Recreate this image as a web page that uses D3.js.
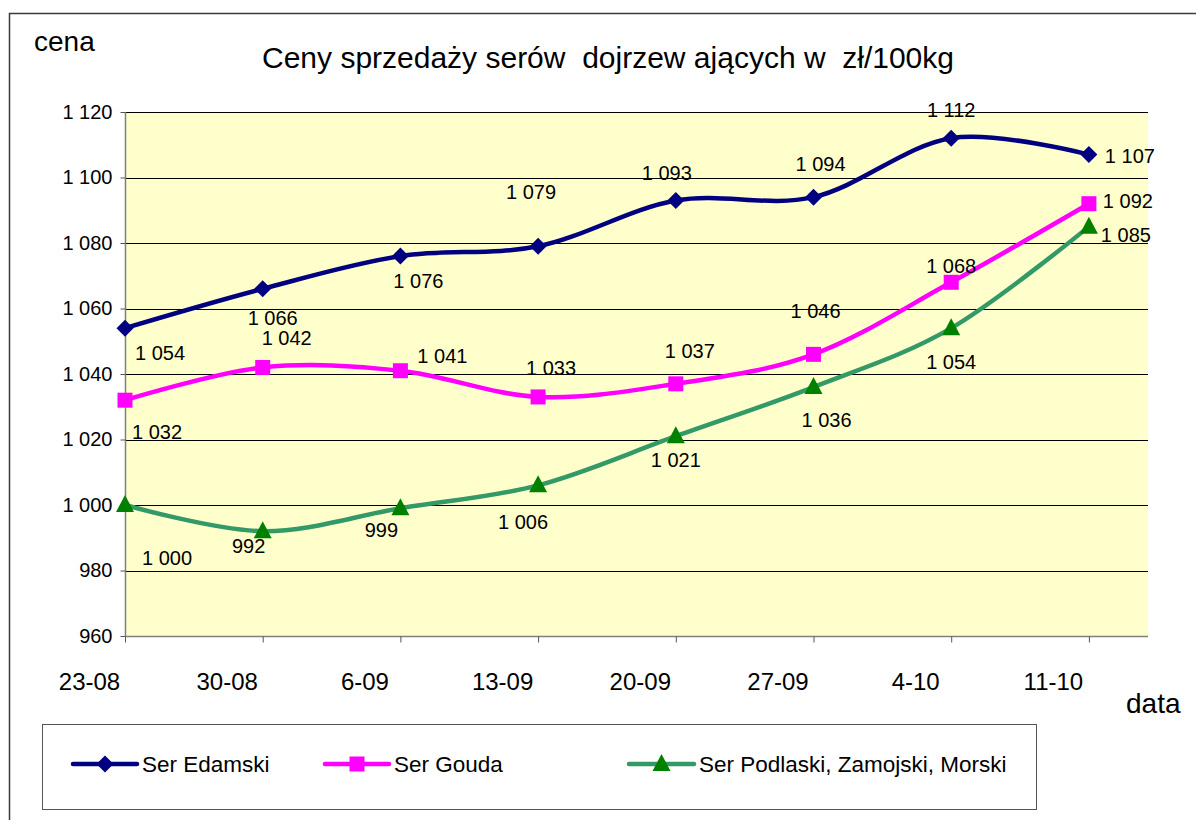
<!DOCTYPE html>
<html>
<head>
<meta charset="utf-8">
<script src="https://cdn.jsdelivr.net/npm/d3@7"></script>
<style>
  html, body { margin: 0; padding: 0; background: #fff; }
  svg { display: block; font-family: Arial, "Liberation Sans", sans-serif; }
</style>
</head>
<body>
<svg id="chart" width="1196" height="820"></svg>
<script>
// ---- data ----
const categories = ["23-08", "30-08", "6-09", "13-09", "20-09", "27-09", "4-10", "11-10"];
const serEdamski = [1054, 1066, 1076, 1079, 1093, 1094, 1112, 1107];
const serGouda = [1032, 1042, 1041, 1033, 1037, 1046, 1068, 1092];
const serPodlaski = [1000, 992, 999, 1006, 1021, 1036, 1054, 1085];
const seriesNames = ["Ser Edamski", "Ser Gouda", "Ser Podlaski, Zamojski, Morski"];
const yTicks = [960, 980, 1000, 1020, 1040, 1060, 1080, 1100, 1120];
const titleText = "Ceny sprzedaży serów  dojrzew ających w  zł/100kg";

// ---- layout / styles ----
const plot = { left: 125, top: 112, right: 1148, bottom: 636 };
const step = 137.7;
const styles = [
  { line: "#000080", marker: "#000080", shape: "diamond" },
  { line: "#FF00FF", marker: "#FF00FF", shape: "square" },
  { line: "#339966", marker: "#008000", shape: "triangle" }
];
// data label offsets (dx, dy of label center relative to point)
const labelOffsets = [
  [[35, 25], [10, 29], [18, 25], [-7, -54], [-9, -27], [7, -33], [0, -28], [41, 1]],
  [[32, 32], [24, -29], [42, -15], [13, -29], [14, -33], [2, -43], [0, -16], [39, -3]],
  [[42, 53], [-14, 15], [-19, 22], [-15, 37], [0, 24], [13, 33], [0, 34], [37, 8]]
];

const fmt = v => d3.format(",")(v).replace(/,/g, " ");

const svg = d3.select("#chart");

// outer border
svg.append("rect").attr("x", 9.5).attr("y", 13.5).attr("width", 1200).attr("height", 820)
  .attr("fill", "#fff").attr("stroke", "#3a3a3a").attr("stroke-width", 1.5);

const x = d3.scaleLinear().domain([0, categories.length - 1])
  .range([plot.left, plot.left + step * (categories.length - 1)]);
const y = d3.scaleLinear().domain([960, 1120]).range([plot.bottom, plot.top]);

// plot background
svg.append("rect").attr("x", plot.left).attr("y", plot.top)
  .attr("width", plot.right - plot.left).attr("height", plot.bottom - plot.top)
  .attr("fill", "#FFFFCC");

// gridlines
svg.append("g").selectAll("line").data(yTicks.slice(1)).join("line")
  .attr("x1", plot.left).attr("x2", plot.right)
  .attr("y1", d => Math.round(y(d)) + 0.5).attr("y2", d => Math.round(y(d)) + 0.5)
  .attr("stroke", "#000").attr("stroke-width", 1);

// y axis
const yAxis = d3.axisLeft(y).tickValues(yTicks).tickFormat(fmt).tickSize(5).tickPadding(8);
const gy = svg.append("g").attr("transform", `translate(${plot.left + 0.5},0)`).call(yAxis);
gy.select(".domain").attr("stroke", "#808080").attr("stroke-width", 1.5).attr("d", `M0,${plot.top}V${plot.bottom}`);
gy.selectAll(".tick line").attr("stroke", "#555");
gy.selectAll(".tick text").attr("font-size", 20).attr("fill", "#000")
  .attr("font-family", "Arial, 'Liberation Sans', sans-serif");

// x axis
const xAxis = d3.axisBottom(x).tickValues(d3.range(categories.length))
  .tickFormat(i => categories[i]).tickSize(6).tickPadding(30);
const gx = svg.append("g").attr("transform", `translate(0,${plot.bottom + 0.5})`).call(xAxis);
gx.select(".domain").attr("stroke", "#808080").attr("stroke-width", 1.5).attr("d", `M${plot.left},0H${plot.right}`);
gx.selectAll(".tick line").attr("stroke", "#555");
gx.selectAll(".tick text").attr("font-size", 24).attr("fill", "#000").attr("dx", -36)
  .attr("font-family", "Arial, 'Liberation Sans', sans-serif");

// axis titles
svg.append("text").attr("x", 34).attr("y", 51).attr("font-size", 28).text("cena");
svg.append("text").attr("x", 1126).attr("y", 713).attr("font-size", 28).text("data");

// title
svg.append("text").attr("x", 608).attr("y", 68).attr("text-anchor", "middle")
  .attr("font-size", 30).style("white-space", "pre").text(titleText);

// series
const allSeries = [serEdamski, serGouda, serPodlaski];
const line = d3.line().x((d, i) => x(i)).y(d => y(d)).curve(d3.curveCatmullRom.alpha(0));

function markerPath(shape) {
  if (shape === "diamond") return "M0,-8.5L8.5,0L0,8.5L-8.5,0Z";
  if (shape === "square") return "M-7.5,-7.5H7.5V7.5H-7.5Z";
  return "M0,-10L9,7L-9,7Z";
}

allSeries.forEach((vals, si) => {
  const st = styles[si];
  const g = svg.append("g");
  g.append("path").attr("d", line(vals)).attr("fill", "none")
    .attr("stroke", st.line).attr("stroke-width", 4.5).attr("stroke-linejoin", "round");
  g.selectAll("path.m").data(vals).join("path").attr("class", "m")
    .attr("transform", (d, i) => `translate(${x(i)},${y(d)})`)
    .attr("d", markerPath(st.shape)).attr("fill", st.marker);
});

allSeries.forEach((vals, si) => {
  svg.append("g").selectAll("text").data(vals).join("text")
    .attr("x", (d, i) => x(i) + labelOffsets[si][i][0])
    .attr("y", (d, i) => y(d) + labelOffsets[si][i][1])
    .attr("text-anchor", "middle").attr("dominant-baseline", "central")
    .attr("font-size", 20).attr("fill", "#000").text(d => fmt(d));
});

// legend
svg.append("rect").attr("x", 42.5).attr("y", 724.5).attr("width", 994).attr("height", 85)
  .attr("fill", "#fff").attr("stroke", "#555").attr("stroke-width", 1);
const legendX = [[73, 137], [325, 389], [629, 694]];
const legendY = 764;
seriesNames.forEach((name, si) => {
  const st = styles[si];
  const [a, b] = legendX[si];
  svg.append("line").attr("x1", a).attr("x2", b).attr("y1", legendY).attr("y2", legendY)
    .attr("stroke", st.line).attr("stroke-width", 4.5).attr("stroke-linecap", "round");
  svg.append("path").attr("transform", `translate(${(a + b) / 2},${legendY})`)
    .attr("d", markerPath(st.shape)).attr("fill", st.marker);
  svg.append("text").attr("x", b + 5).attr("y", legendY).attr("dominant-baseline", "central")
    .attr("font-size", 22.5).text(name);
});
</script>
</body>
</html>
